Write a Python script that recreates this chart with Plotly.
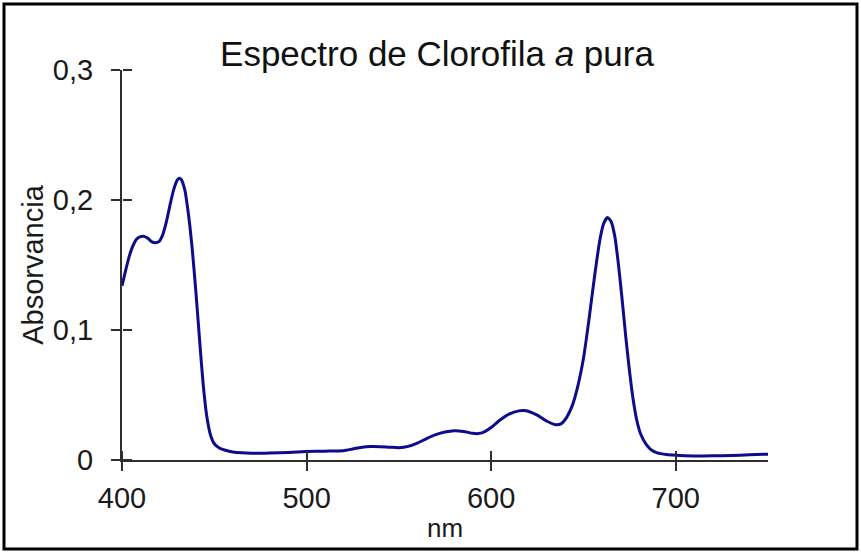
import plotly.graph_objects as go

# Absorption spectrum of pure chlorophyll a
wavelength_nm = [
    400, 402, 404, 406, 408, 410, 412, 414, 416, 418, 420, 422, 424, 426, 428,
    430, 431, 432, 434, 436, 438, 440, 442, 444, 446, 448, 450, 453, 456, 460,
    465, 470, 475, 480, 490, 500, 510, 520, 525, 530, 535, 540, 545, 550, 555,
    560, 565, 570, 575, 580, 585, 590, 593, 596, 600, 605, 610, 615, 618, 620,
    625, 630, 635, 638, 641, 644, 647, 650, 653, 656, 659, 661, 663, 665, 667,
    669, 671, 673, 675, 677, 679, 681, 684, 687, 690, 695, 700, 705, 710, 720,
    730, 740, 750,
]
absorbance = [
    0.134, 0.146, 0.157, 0.165, 0.170, 0.1718, 0.1720, 0.1705, 0.168, 0.1672,
    0.168, 0.173, 0.183, 0.196, 0.208, 0.2155, 0.2168, 0.2160, 0.208, 0.189,
    0.163, 0.130, 0.093, 0.058, 0.033, 0.019, 0.0125, 0.009, 0.0075, 0.0062,
    0.0055, 0.0052, 0.0052, 0.0053, 0.0058, 0.0065, 0.0068, 0.0072, 0.0085,
    0.0098, 0.0103, 0.0102, 0.0098, 0.0095, 0.0105, 0.013, 0.0165, 0.0195,
    0.0215, 0.0225, 0.022, 0.0205, 0.0203, 0.0215, 0.025, 0.031, 0.0355,
    0.0378, 0.038, 0.0375, 0.0345, 0.030, 0.0272, 0.028, 0.033, 0.042, 0.057,
    0.078, 0.108, 0.141, 0.170, 0.182, 0.1865, 0.1835, 0.172, 0.150, 0.123,
    0.094, 0.068, 0.046, 0.030, 0.020, 0.012, 0.0075, 0.0055, 0.0042, 0.0036,
    0.0032, 0.0031, 0.0032, 0.0035, 0.0040, 0.0045,
]

x_ticks = [400, 500, 600, 700]
y_ticks = [0, 0.1, 0.2, 0.3]
y_tick_labels = ["0", "0,1", "0,2", "0,3"]

FONT = "Liberation Sans, Arial, sans-serif"
AXIS_COLOR = "#2e2e2e"
TEXT_COLOR = "#1a1a1a"

fig = go.Figure()
fig.add_trace(go.Scatter(
    x=wavelength_nm, y=absorbance, mode="lines",
    line=dict(color="#0c0c8c", width=3, shape="spline", smoothing=0.6),
    showlegend=False, hoverinfo="x+y",
))
# invisible trace on the mirrored axes so their tick marks are rendered
fig.add_trace(go.Scatter(
    x=[wavelength_nm[0]], y=[absorbance[0]], xaxis="x2", yaxis="y2",
    mode="markers", marker=dict(opacity=0), showlegend=False, hoverinfo="skip",
))

W, H = 861, 553
ML, MR, MT, MB = 122, 93, 70, 93
pw, ph = W - ML - MR, H - MT - MB

axis_common = dict(
    showgrid=False, zeroline=False, showline=True, linecolor=AXIS_COLOR,
    linewidth=2, tickcolor=AXIS_COLOR, tickwidth=2, ticklen=9,
    tickfont=dict(family=FONT, size=29, color=TEXT_COLOR),
)
# second pair of axes sitting on the main axis lines, ticks pointing into the
# plot so every tick crosses its axis
cross_common = dict(
    showticklabels=False, showgrid=False, zeroline=False, showline=False,
    tickcolor=AXIS_COLOR, tickwidth=2, ticklen=9, ticks="outside",
    anchor="free", position=0,
)

fig.update_layout(
    width=W, height=H,
    margin=dict(l=ML, r=MR, t=MT, b=MB),
    paper_bgcolor="white", plot_bgcolor="white",
    title=dict(
        text="Espectro de Clorofila <i>a</i> pura",
        font=dict(family=FONT, size=35, color="#111111"),
        x=437 / W, xanchor="center", xref="container",
        y=1 - 54 / H, yanchor="middle", yref="container",
    ),
    xaxis=dict(
        range=[400, 750], tickvals=x_ticks, ticks="outside",
        title=dict(text="nm", font=dict(family=FONT, size=26, color=TEXT_COLOR),
                   standoff=6),
        ticklabelstandoff=2,
        **axis_common,
    ),
    yaxis=dict(
        range=[0, 0.3], tickvals=y_ticks, ticktext=y_tick_labels,
        ticks="outside",
        title=dict(text="Absorvancia",
                   font=dict(family=FONT, size=29, color=TEXT_COLOR),
                   standoff=1),
        ticklabelstandoff=12,
        **axis_common,
    ),
    xaxis2=dict(range=[400, 750], tickvals=x_ticks, overlaying="x",
                side="top", **cross_common),
    yaxis2=dict(range=[0, 0.3], tickvals=y_ticks, overlaying="y",
                side="right", **cross_common),
    shapes=[dict(
        type="rect", xref="paper", yref="paper",
        x0=(4 - ML) / pw, x1=(857 - ML) / pw,
        y0=(H - MB - 549) / ph, y1=(H - MB - 4) / ph,
        line=dict(color="black", width=3), fillcolor="rgba(0,0,0,0)",
        layer="above",
    )],
)

fig.write_html("out.html")
